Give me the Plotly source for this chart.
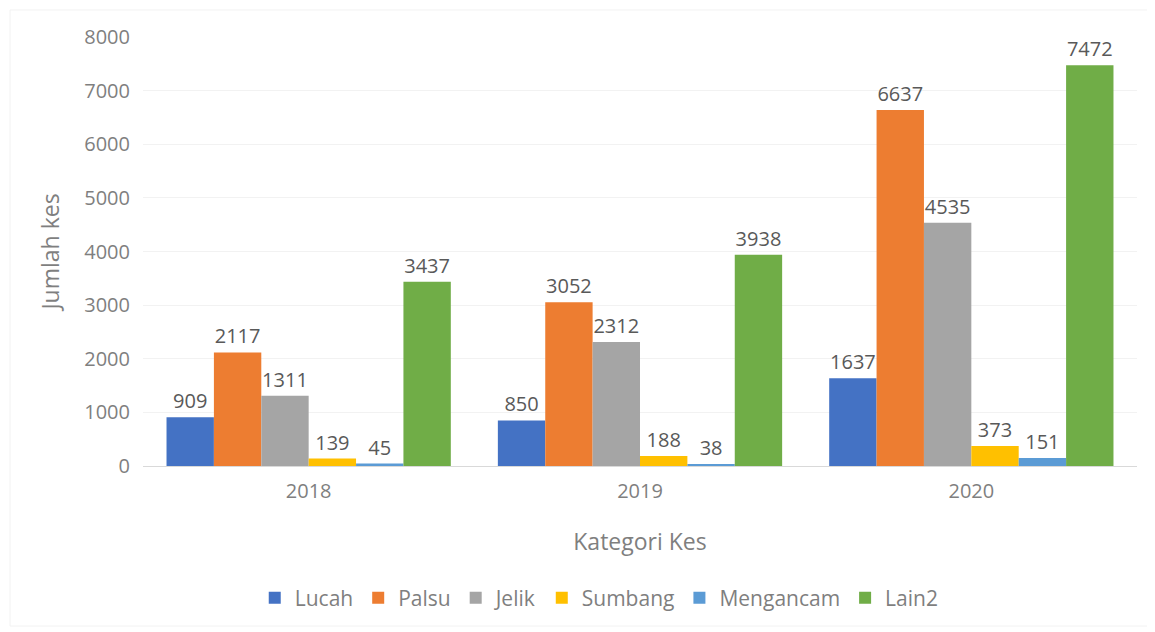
import plotly.graph_objects as go

years = ["2018", "2019", "2020"]
series_names = ["Lucah", "Palsu", "Jelik", "Sumbang", "Mengancam", "Lain2"]
lucah = [909, 850, 1637]
palsu = [2117, 3052, 6637]
jelik = [1311, 2312, 4535]
sumbang = [139, 188, 373]
mengancam = [45, 38, 151]
lain2 = [3437, 3938, 7472]
colors = ["#4472C4", "#ED7D31", "#A5A5A5", "#FFC000", "#5B9BD5", "#70AD47"]

values = [lucah, palsu, jelik, sumbang, mengancam, lain2]
FONT = "Open Sans"
GREY = "#7F7F7F"

fig = go.Figure()
for name, vals, col in zip(series_names, values, colors):
    fig.add_trace(go.Bar(
        x=years, y=vals, name=name, marker_color=col, marker_line_width=0,
        text=[str(v) for v in vals], textposition="outside",
        textfont=dict(family=FONT, size=20, color="#595959"),
        constraintext="none", cliponaxis=False,
    ))

# page body has an 8px margin; compensate so the plot lands at the same pixels
fig.update_layout(
    width=1147, height=624,
    margin=dict(l=135, r=18, t=29, b=166),
    paper_bgcolor="white", plot_bgcolor="white",
    barmode="group", bargap=0.142, bargroupgap=0,
    font=dict(family=FONT, color=GREY, size=20),
    showlegend=True,
    legend=dict(orientation="h", x=0.459, xanchor="center", y=-0.308, yanchor="middle",
                font=dict(family=FONT, size=21, color=GREY),
                itemwidth=30, traceorder="normal"),
)
fig.update_xaxes(
    showgrid=False, showline=True, linecolor="#D9D9D9", linewidth=1,
    tickfont=dict(family=FONT, size=20, color=GREY), ticks="", ticklabelstandoff=7,
    title=dict(text="Kategori Kes", font=dict(family=FONT, size=23, color=GREY), standoff=30),
)
fig.update_yaxes(
    range=[0, 8000], dtick=1000, showgrid=True, gridcolor="#F2F2F2", gridwidth=1,
    zeroline=False, showline=False,
    tickfont=dict(family=FONT, size=20, color=GREY), ticks="", ticklabelstandoff=12,
    title=dict(text="Jumlah kes", font=dict(family=FONT, size=23, color=GREY), standoff=18),
)
fig.add_shape(type="rect", xref="paper", yref="paper", x0=-0.1338, x1=1.013, y0=-0.373, y1=1.063,
              line=dict(color="#F2F2F2", width=1), layer="below")

fig.write_html("out.html")
